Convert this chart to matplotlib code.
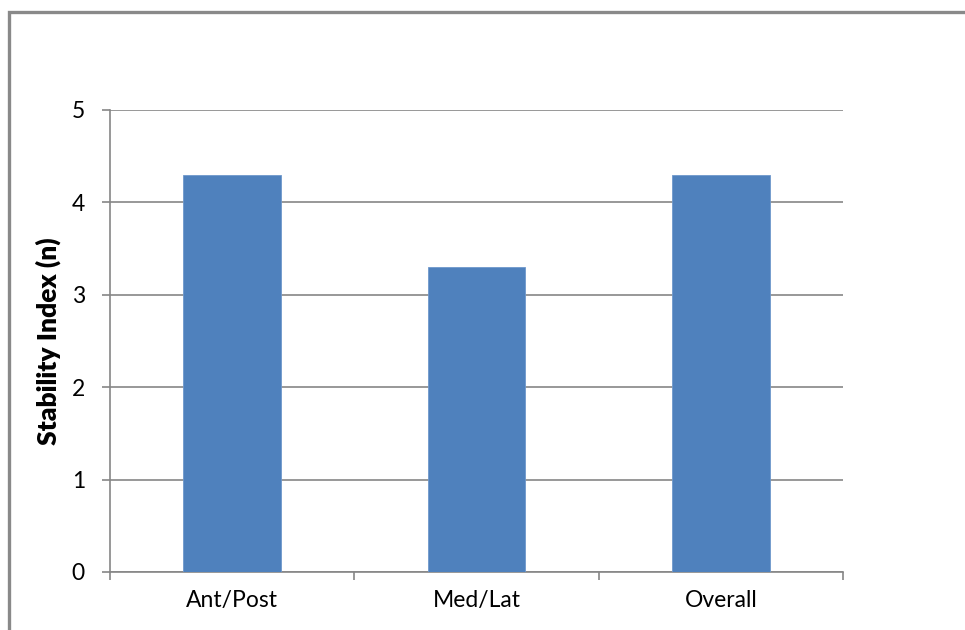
import matplotlib.pyplot as plt
from matplotlib.patches import Rectangle

categories = ['Ant/Post', 'Med/Lat', 'Overall']
values = [4.3, 3.3, 4.3]
y_ticks = [0, 1, 2, 3, 4, 5]

plt.rcParams['font.family'] = ['Lato', 'DejaVu Sans']

fig = plt.figure(figsize=(9.65, 6.3), dpi=100)
W, H = 965, 630
ax = fig.add_axes([110 / W, 1 - 572 / H, 733 / W, 462 / H])

# outer chart border (only top/left visible in the crop)
fig.patches.append(Rectangle((9 / W, -0.1), 1.2, (1 - 12 / H) + 0.1,
                             transform=fig.transFigure, fill=False,
                             edgecolor='#898989', linewidth=2.4))

x = range(len(categories))
ax.bar(x, values, width=0.4, color='#4F81BD', edgecolor='#6f98cc', linewidth=0.6, zorder=3)

ax.set_xlim(-0.5, len(categories) - 0.5)
ax.set_ylim(0, 5)
ax.set_yticks(y_ticks)
ax.grid(axis='y', color='#868686', linewidth=1.2, zorder=0)

for s in ['top', 'right']:
    ax.spines[s].set_visible(False)
for s in ['left', 'bottom']:
    ax.spines[s].set_color('#868686')
    ax.spines[s].set_linewidth(1.2)

ax.set_xticks(list(x))
ax.set_xticklabels(categories)
ax.set_xticks([i - 0.5 for i in range(len(categories) + 1)], minor=True)
ax.tick_params(axis='x', which='major', length=0, pad=13, labelsize=16.5)
ax.tick_params(axis='x', which='minor', length=6, width=1.2, color='#868686')
ax.tick_params(axis='y', length=6, width=1.2, color='#868686', pad=12, labelsize=16.5)

ax.set_ylabel('Stability Index (n)', fontsize=19, fontweight='heavy', labelpad=8)

fig.savefig('out.png', dpi=100)
